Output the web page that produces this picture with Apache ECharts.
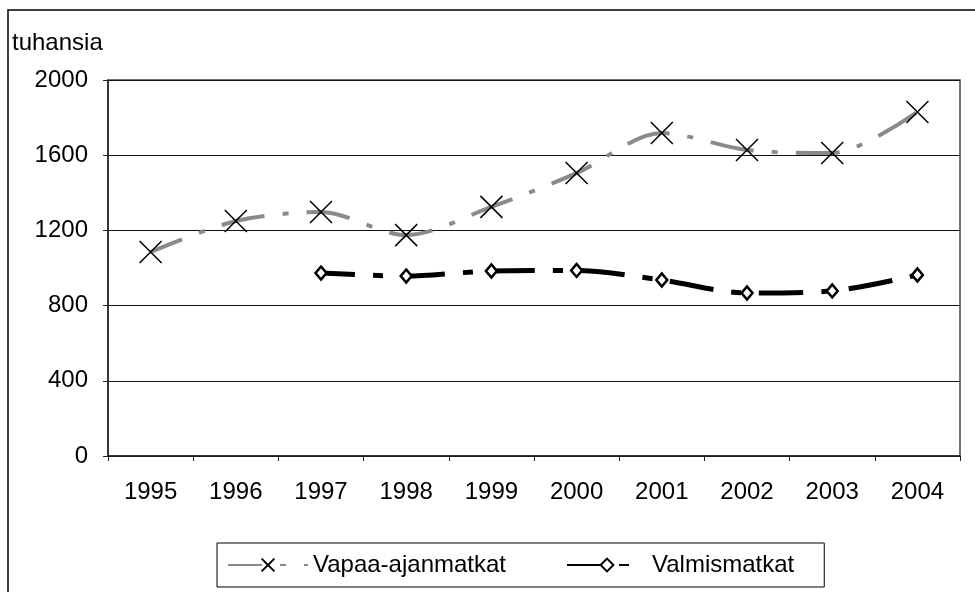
<!DOCTYPE html>
<html>
<head>
<meta charset="utf-8">
<script src="https://cdn.jsdelivr.net/npm/echarts@6/dist/echarts.min.js"></script>
<style>
  html, body { margin: 0; padding: 0; background: #fff; }
  #main { width: 975px; height: 592px; }
</style>
</head>
<body>
<div id="main"></div>
<script>
var years = ['1995','1996','1997','1998','1999','2000','2001','2002','2003','2004'];
var vapaaAjan = [1085, 1250, 1298, 1175, 1325, 1505, 1718, 1628, 1612, 1830];
var valmis = [null, null, 973, 957, 984, 987, 936, 867, 878, 963];
var seriesNames = ['Vapaa-ajanmatkat', 'Valmismatkat'];

var font = 'Liberation Sans, Arial, sans-serif';

var myChart = echarts.init(document.getElementById('main'));
var option = {
    backgroundColor: '#fff',
    animation: false,
    textStyle: { fontFamily: font },
    graphic: [
        {
            // outer frame, only left and top edge inside the window
            type: 'rect',
            shape: { x: 8, y: 10, width: 1000, height: 620 },
            style: { fill: 'none', stroke: '#000', lineWidth: 1.5 }
        },
        {
            type: 'text',
            left: 12, top: 31,
            style: { text: 'tuhansia', fontSize: 24, fontFamily: font, fill: '#000' }
        }
    ],
    grid: {
        left: 108, right: 15, top: 80, bottom: 136,
        show: true,
        borderColor: '#444',
        borderWidth: 1.5
    },
    legend: {
        data: seriesNames,
        orient: 'horizontal',
        left: 217, top: 543,
        padding: [10, 30, 10, 10],
        borderColor: '#000',
        borderWidth: 1,
        itemWidth: 80, itemHeight: 16,
        itemGap: 60,
        textStyle: { fontSize: 24, fontFamily: font, color: '#000' }
    },
    xAxis: {
        type: 'category',
        data: years,
        boundaryGap: true,
        axisLine: { lineStyle: { color: '#222', width: 1.5 } },
        axisTick: { show: true, length: 5, lineStyle: { color: '#222' } },
        axisLabel: { fontSize: 24, color: '#000', margin: 24, fontFamily: font },
        splitLine: { show: false }
    },
    yAxis: {
        type: 'value',
        min: 0, max: 2000, interval: 400,
        axisLine: { show: true, lineStyle: { color: '#222', width: 1.5 } },
        axisTick: { show: true, length: 5, lineStyle: { color: '#222' } },
        axisLabel: {
            fontSize: 24, color: '#000', margin: 20, fontFamily: font,
            formatter: function (v) { return String(v); }
        },
        splitLine: { show: true, lineStyle: { color: '#111', width: 1 } }
    },
    series: [
        {
            name: seriesNames[0],
            type: 'line',
            data: vapaaAjan,
            smooth: 0.3,
            symbol: 'path://M0,0 L10,10 M10,0 L0,10',
            symbolSize: 22,
            itemStyle: { color: '#fff', borderColor: '#000', borderWidth: 1.5 },
            lineStyle: { color: '#8a8a8a', width: 4, type: [44, 18, 6, 18], dashOffset: 10 },
            z: 3
        },
        {
            name: seriesNames[1],
            type: 'line',
            data: valmis,
            smooth: 0.3,
            symbol: 'diamond',
            symbolSize: [11, 13],
            itemStyle: { color: '#fff', borderColor: '#000', borderWidth: 2.5 },
            lineStyle: { color: '#000', width: 5, type: [44, 18, 10, 18], dashOffset: 10 },
            z: 4
        }
    ]
};
myChart.setOption(option);
</script>
</body>
</html>
